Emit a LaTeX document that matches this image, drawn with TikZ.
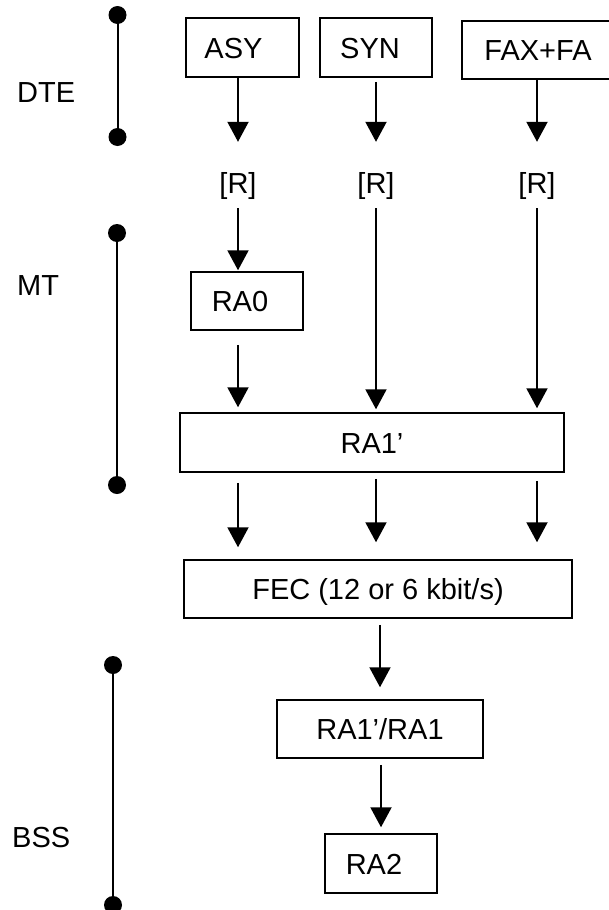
\documentclass[tikz,border=0pt]{standalone}
\usepackage{fontspec}
\setmainfont{Liberation Sans}
\usetikzlibrary{arrows.meta}
\begin{document}
\begin{tikzpicture}[x=1pt,y=-1pt,
  txt/.style={font=\fontsize{29}{34}\selectfont},
  box/.style={txt, draw, line width=1.5pt, inner sep=0pt, text height=21pt, text depth=0pt},
  rlab/.style={txt, inner sep=0pt, anchor=base, text height=51pt, text depth=15pt},
  lab/.style={txt, inner sep=0pt, anchor=base west},
  arr/.style={line width=2pt, -{Triangle[width=21pt,length=20pt]}},
  bline/.style={line width=2pt},
  dot/.style={fill=black}]
\useasboundingbox (0,0) rectangle (609,910);
% boxes
\node[box, minimum width=113pt, minimum height=59pt] (asy) at (242.5,47.5) {ASY\hspace*{18pt}};
\node[box, minimum width=112pt, minimum height=59pt] (syn) at (376,47.5) {SYN\hspace*{12pt}};
\node[box, minimum width=152pt, minimum height=58pt] (fax) at (538,50) {FAX+FA};
\node[rlab] (r1) at (238,193) {[R]};
\node[rlab] (r2) at (376,193) {[R]};
\node[rlab] (r3) at (537,193) {[R]};
\node[box, minimum width=112pt, minimum height=58pt] (ra0) at (247,301) {RA0\hspace*{14pt}};
\node[box, minimum width=384pt, minimum height=59pt] (ra1p) at (372,442.5) {RA1’};
\node[box, minimum width=388pt, minimum height=58pt] (fec) at (378,589) {FEC (12 or 6 kbit/s)};
\node[box, minimum width=206pt, minimum height=58pt] (ra1) at (380,729) {RA1’/RA1};
\node[box, minimum width=112pt, minimum height=59pt] (ra2) at (381,863.5) {RA2\hspace*{14pt}};
% arrows
\draw[arr] (asy.south -| r1) -- (r1.north);
\draw[arr, shorten <=4pt] (syn.south -| r2) -- (r2.north);
\draw[arr] (fax.south -| r3) -- (r3.north);
\draw[arr, shorten >=1pt] (r1.south) -- (r1 |- ra0.north);
\draw[arr, shorten >=3pt] (r2.south) -- (r2 |- ra1p.north);
\draw[arr, shorten >=4pt] (r3.south) -- (r3 |- ra1p.north);
\draw[arr, shorten <=14pt, shorten >=5pt] (ra0.south -| r1) -- (r1 |- ra1p.north);
\draw[arr, shorten <=10pt, shorten >=12pt] (ra1p.south -| r1) -- (r1 |- fec.north);
\draw[arr, shorten <=6pt, shorten >=17pt] (ra1p.south -| r2) -- (r2 |- fec.north);
\draw[arr, shorten <=8pt, shorten >=17pt] (ra1p.south -| r3) -- (r3 |- fec.north);
\draw[arr, shorten <=6pt, shorten >=12pt] (fec.south -| ra1) -- (ra1.north);
\draw[arr, shorten <=6pt, shorten >=6pt] (ra1.south -| ra2) -- (ra2.north);
% brackets
\coordinate (dteT) at (117.5,15);
\coordinate (dteB) at (117.5,137);
\coordinate (mtT) at (117,233);
\coordinate (mtB) at (117,485);
\coordinate (bssT) at (113,665);
\coordinate (bssB) at (113,905);
\draw[bline] (dteT) -- (dteB);
\draw[bline] (mtT) -- (mtB);
\draw[bline] (bssT) -- (bssB);
\foreach \p in {dteT,dteB,mtT,mtB,bssT,bssB} \fill[dot] (\p) circle[radius=9pt];
% labels
\node[lab] (dte) at (17,102) {DTE};
\node[lab] (mt) at (17,295) {MT};
\node[lab] (bss) at (12,847) {BSS};
\end{tikzpicture}
\end{document}
